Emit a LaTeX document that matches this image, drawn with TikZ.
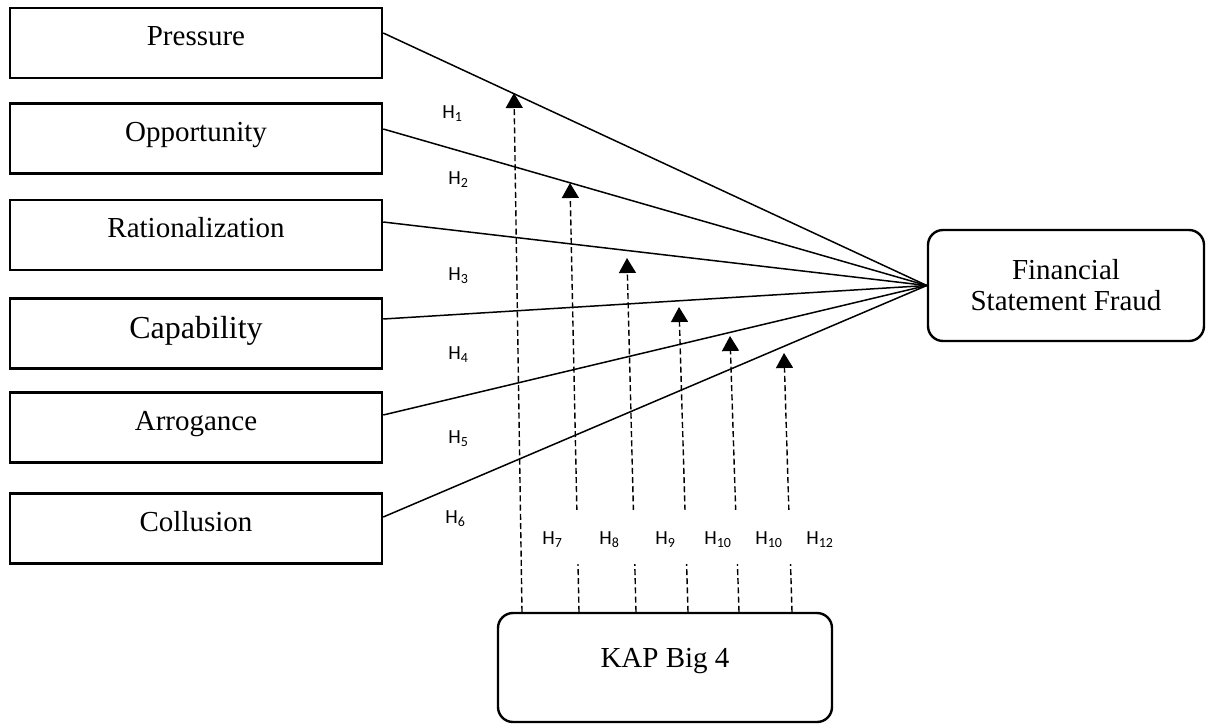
\documentclass[tikz,border=0pt]{standalone}
\usepackage{fontspec}
\setmainfont{Liberation Serif}
\newfontfamily\hfont{Carlito}
\usetikzlibrary{arrows.meta}
\begin{document}
\begin{tikzpicture}[x=0.5pt,y=-0.5pt,
  factor/.style={draw, line width=1.25pt, minimum width=186pt, minimum height=35pt,
    inner sep=0pt, font=\fontsize{14.5}{16}\selectfont, text height=10pt, text depth=7.4pt},
  roundbox/.style={draw, line width=1.2pt, rounded corners=7.5pt, inner sep=0pt,
    font=\fontsize{14.5}{15.5}\selectfont, align=center},
  link/.style={line width=0.75pt},
  modarrow/.style={line width=0.7pt, dash pattern=on 3pt off 1.6pt,
    -{Triangle[width=8.5pt,length=7.5pt]}},
  hl/.style={font=\hfont\fontsize{10}{12}\selectfont, inner sep=0pt, anchor=base west},
  hb/.style={hl, fill=white, inner xsep=5pt, inner ysep=0pt, text width=20pt, align=left,
    text height=17pt, text depth=10pt}
]
\useasboundingbox (0,0) rectangle (1206,724);

% factor boxes
\node[factor] (pr) at (196,43) {Pressure};
\node[factor] (op) at (196,138.5) {Opportunity};
\node[factor] (ra) at (196,235) {Rationalization};
\node[factor, font=\fontsize{16}{18}\selectfont, text height=10pt, text depth=4.9pt] (ca) at (196,333.5) {Capability};
\node[factor] (ar) at (196,427.5) {Arrogance};
\node[factor] (co) at (196,528.5) {Collusion};

% outcome and moderator
\node[roundbox, minimum width=138pt, minimum height=55.5pt] (fsf) at (1066,285.5) {Financial\\Statement Fraud};
\node[roundbox, minimum width=167pt, minimum height=54.5pt, text height=8pt, text depth=8pt] (kap) at (665,667.5) {KAP Big 4};

% direct links
\draw[link] ([yshift=5pt]pr.east) -- (fsf.west);
\draw[link] ([yshift=4.75pt]op.east) -- (fsf.west);
\draw[link] ([yshift=6.5pt]ra.east) -- (fsf.west);
\draw[link] ([yshift=7.25pt]ca.east) -- (fsf.west);
\draw[link] ([yshift=6.25pt]ar.east) -- (fsf.west);
\draw[link] ([yshift=5.75pt]co.east) -- (fsf.west);

% moderating arrow tips
\coordinate (t1) at (514,93);
\coordinate (t2) at (570,183);
\coordinate (t3) at (627,258);
\coordinate (t4) at (679,307);
\coordinate (t5) at (730,336);
\coordinate (t6) at (784,353);

\draw[modarrow] ([xshift=-71.5pt]kap.north) -- (t1);
\draw[modarrow] ([xshift=-43pt]kap.north) -- (t2);
\draw[modarrow] ([xshift=-14.5pt]kap.north) -- (t3);
\draw[modarrow] ([xshift=11.5pt]kap.north) -- (t4);
\draw[modarrow] ([xshift=37pt]kap.north) -- (t5);
\draw[modarrow] ([xshift=63.5pt]kap.north) -- (t6);

% hypothesis labels
\node[hl] (h1) at (442,118) {H\textsubscript{1}};
\node[hl] (h2) at (448,184) {H\textsubscript{2}};
\node[hl] (h3) at (448,280) {H\textsubscript{3}};
\node[hl] (h4) at (448,359) {H\textsubscript{4}};
\node[hl] (h5) at (448,443) {H\textsubscript{5}};
\node[hl] (h6) at (445,523) {H\textsubscript{6}};

\node[hb] (h7) at (532,544) {H\textsubscript{7}};
\node[hb] (h8) at (589,544) {H\textsubscript{8}};
\node[hb] (h9) at (645,544) {H\textsubscript{9}};
\node[hb] (h10) at (694,544) {H\textsubscript{10}};
\node[hb] (h11) at (745,544) {H\textsubscript{10}};
\node[hb] (h12) at (796,544) {H\textsubscript{12}};
\end{tikzpicture}
\end{document}
